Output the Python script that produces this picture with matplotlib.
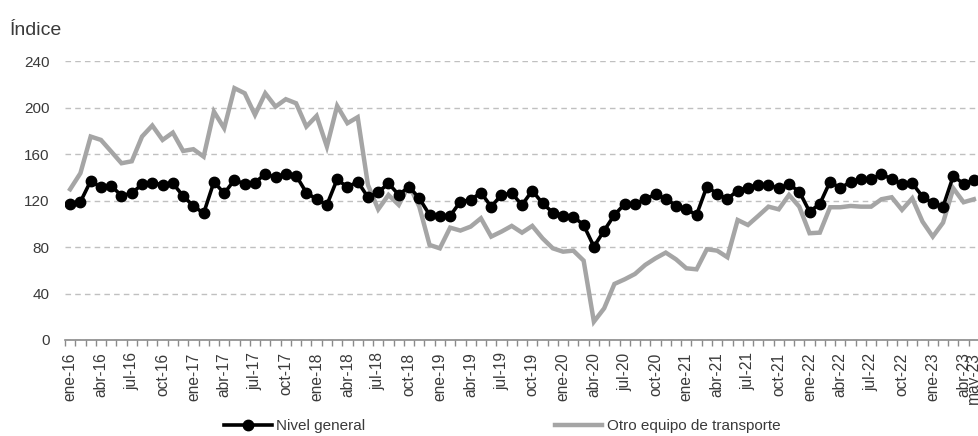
import numpy as np
import matplotlib
matplotlib.use("Agg")
from matplotlib import pyplot as plt

plt.rcParams['font.family'] = ['Liberation Sans', 'DejaVu Sans']

meses = ['ene', 'feb', 'mar', 'abr', 'may', 'jun', 'jul', 'ago', 'sep', 'oct', 'nov', 'dic']
periodos = ['%s-%02d' % (meses[m], a) for a in range(16, 24) for m in range(12)][:89]

nivel_general = [
    117.2, 119.0, 137.0, 131.6, 132.8, 124.4, 126.4, 134.2, 135.6, 133.6, 135.0, 124.1,
    115.5, 109.2, 136.2, 126.4, 137.9, 134.5, 135.6, 143.1, 140.2, 143.1, 141.7, 127.0,
    121.3, 116.4, 138.5, 131.6, 136.5, 123.0, 127.3, 135.0, 125.0, 132.2, 122.1, 107.8,
    107.2, 106.9, 119.3, 120.7, 127.0, 114.9, 125.0, 126.4, 116.4, 128.7, 117.8, 109.8,
    107.2, 106.3, 99.1, 80.5, 94.3, 107.8, 117.2, 117.2, 121.3, 125.6, 121.6, 115.8,
    112.6, 107.8, 132.2, 125.9, 121.6, 128.7, 131.3, 133.6, 133.6, 130.7, 134.2, 127.9,
    110.6, 117.2, 136.5, 130.7, 136.5, 138.5, 138.5, 143.1, 138.5, 134.5, 135.0, 123.6,
    117.8, 114.9, 141.4, 134.5, 137.9,
]

otro_equipo = [
    129.9, 143.7, 175.3, 172.4, 162.4, 152.3, 154.0, 175.3, 184.8, 172.4, 178.7, 162.9,
    164.4, 158.0, 196.8, 182.5, 217.0, 212.6, 194.0, 212.6, 201.1, 207.5, 204.0, 183.9,
    193.1, 166.7, 201.7, 186.8, 192.0, 133.6, 112.6, 125.0, 116.4, 133.6, 114.9, 81.9,
    79.0, 96.8, 94.3, 97.7, 104.9, 89.1, 93.4, 98.3, 92.5, 98.3, 87.6, 79.0,
    76.1, 77.0, 68.4, 15.8, 27.3, 48.3, 52.3, 56.9, 64.7, 70.4, 75.3, 69.5,
    61.8, 60.9, 78.2, 77.0, 71.3, 103.4, 99.1, 106.9, 114.9, 112.6, 125.0, 114.9,
    92.0, 92.5, 114.4, 114.4, 115.5, 114.9, 114.9, 121.3, 123.0, 112.1, 122.1, 102.0,
    89.1, 101.1, 130.7, 118.7, 121.3,
]

texto = '#3a3a3a'
x = np.arange(len(periodos))

fig = plt.figure(figsize=(9.79, 4.36), dpi=100)
ax = fig.add_axes([0.0664, 0.2202, 0.9336, 0.6388])

ax.plot(x, otro_equipo, color='#a5a5a5', lw=3.2, solid_joinstyle='miter',
        label='Otro equipo de transporte', zorder=2)
ax.plot(x, nivel_general, color='black', lw=2.6, marker='o', ms=7.5,
        label='Nivel general', zorder=3)

ax.set_ylim(0, 240)
ax.set_xlim(-0.45, 88.25)
ax.set_yticks(range(0, 241, 40))
ax.yaxis.grid(True, color='#c0c0c0', ls=(0, (4, 3)), lw=1)
ax.set_axisbelow(True)

# etiquetas trimestrales, más el último mes
idx = list(range(0, 88, 3)) + [88]
ax.set_xticks(idx)
ax.set_xticklabels([periodos[i] for i in idx], rotation=90)
ax.set_xticks(np.arange(-0.5, 89, 1), minor=True)
ax.tick_params(axis='x', which='major', length=0, pad=9, labelsize=11.2, labelcolor=texto)
ax.tick_params(axis='x', which='minor', length=4, color='#8a8a8a', width=1)
ax.tick_params(axis='y', length=0, pad=11, labelsize=11, labelcolor=texto)

for s in ['top', 'right', 'left']:
    ax.spines[s].set_visible(False)
ax.spines['bottom'].set_color('#8a8a8a')
ax.spines['bottom'].set_linewidth(1.2)

fig.text(0.010, 0.93, 'Índice', fontsize=14, color=texto, va='center', ha='left')

h, l = ax.get_legend_handles_labels()
fig.legend(h[::-1], l[::-1], loc='center', bbox_to_anchor=(0.513, 0.022), ncol=2,
           frameon=False, handlelength=3.1, handletextpad=0.3, columnspacing=12.4,
           fontsize=11, labelcolor=texto, borderaxespad=0)

fig.savefig('out.png', dpi=100)
